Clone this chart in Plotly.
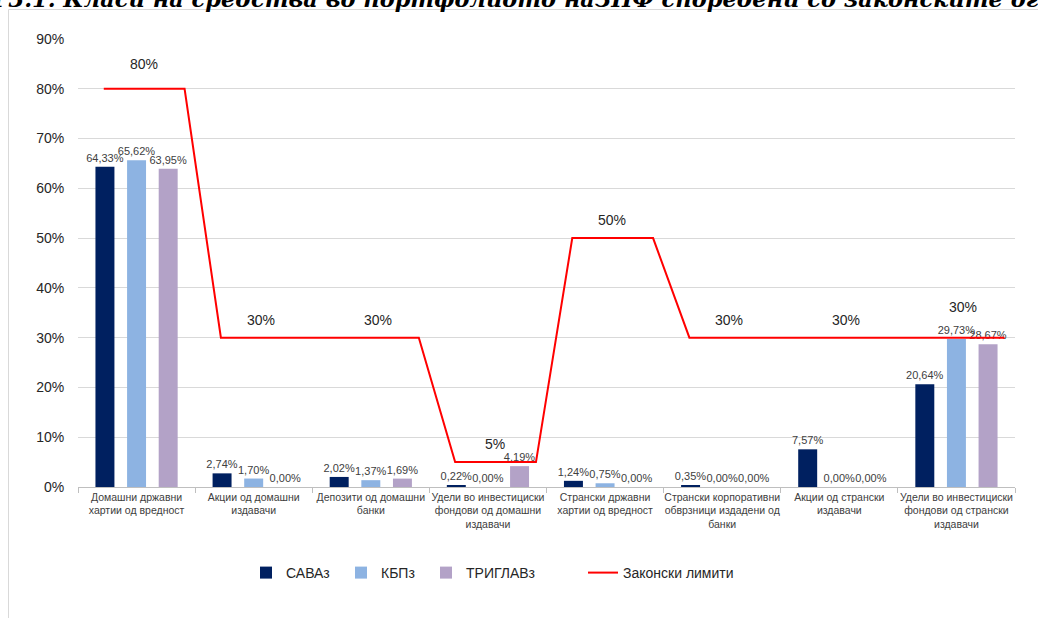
import plotly.graph_objects as go

categories = [
    "Домашни државни<br>хартии од вредност",
    "Акции од домашни<br>издавачи",
    "Депозити од домашни<br>банки",
    "Удели во инвестициски<br>фондови од домашни<br>издавачи",
    "Странски државни<br>хартии од вредност",
    "Странски корпоративни<br>обврзници издадени од<br>банки",
    "Акции од странски<br>издавачи",
    "Удели во инвестициски<br>фондови од странски<br>издавачи",
]
sava = [64.33, 2.74, 2.02, 0.22, 1.24, 0.35, 7.57, 20.64]
kbp = [65.62, 1.70, 1.37, 0.00, 0.75, 0.00, 0.00, 29.73]
triglav = [63.95, 0.00, 1.69, 4.19, 0.00, 0.00, 0.00, 28.67]
limits = [80, 30, 30, 5, 50, 30, 30, 30]
yticks = [0, 10, 20, 30, 40, 50, 60, 70, 80, 90]
title_text = "Г3.1. Класи на средства во портфолиото наЗПФ споредени со законските ограничувања"

series = [("САВАз", sava, "#002060", "legend"),
          ("КБПз", kbp, "#8DB3E2", "legend3"),
          ("ТРИГЛАВз", triglav, "#B3A2C7", "legend4")]
legend_px = {"legend": 246, "legend3": 341, "legend4": 426, "legend2": 583}
label_shift = [15, 8, 8, 8, 8, 8, 8, 21]

def fmt(v):
    return f"{v:.2f}%".replace(".", ",")

fig = go.Figure()
for name, vals, col, lg in series:
    fig.add_trace(go.Bar(
        x=categories, y=vals, name=name, marker=dict(color=col, line=dict(width=0)),
        text=[fmt(v) for v in vals], textposition="outside", constraintext="none",
        cliponaxis=False, textfont=dict(size=11, color="#404040", family="Liberation Sans, Arial"),
        hoverinfo="skip", legend=lg,
    ))

# legal limit line on an overlaid numeric axis
lx, ly = [], []
for i, L in enumerate(limits):
    lx += [i - 0.28, i + 0.41]
    ly += [L, L]
fig.add_trace(go.Scatter(x=lx, y=ly, mode="lines", name="Законски лимити",
                         line=dict(color="#FF0000", width=2), xaxis="x2", hoverinfo="skip",
                         legend="legend2"))

for i, L in enumerate(limits):
    fig.add_annotation(x=i + 0.06, y=L, xref="x2", yref="y", text=f"{L}%", showarrow=False,
                       yanchor="bottom", yshift=label_shift[i],
                       font=dict(size=14, color="#262626", family="Liberation Sans, Arial"))

# cropped title at the very top
fig.add_annotation(x=(-10 - 78) / 937, y=(487 - 14) / 448, xref="paper", yref="paper",
                   xanchor="left", yanchor="bottom", text=f"<b><i>{title_text}</i></b>", showarrow=False,
                   font=dict(size=22.5, color="#000000", family="DejaVu Serif"))

# outer chart frame
fig.add_shape(type="rect", xref="paper", yref="paper",
              x0=(8.5 - 78) / 937, x1=1.1, y0=-0.5, y1=(487 - 9.5) / 448,
              line=dict(color="#D9D9D9", width=1), fillcolor="rgba(0,0,0,0)", layer="below")

legend_common = dict(orientation="h", xanchor="left", y=(487 - 573) / 448, yanchor="middle",
                     font=dict(size=14, color="#262626"), bgcolor="rgba(0,0,0,0)")

fig.update_layout(
    width=1038, height=618,
    margin=dict(l=78, r=23, t=39, b=131, autoexpand=False),
    paper_bgcolor="white", plot_bgcolor="white",
    barmode="group", bargap=0.19, bargroupgap=0.4,
    font=dict(family="Liberation Sans, Arial", color="#404040"),
    showlegend=True,
    xaxis=dict(type="category", range=[-0.5, 7.5], tickson="boundaries", ticks="outside", ticklen=5,
               tickcolor="#BFBFBF", showline=True, linecolor="#BFBFBF", linewidth=1, showgrid=False,
               tickangle=0, automargin=False,
               tickfont=dict(size=10.5, color="#404040"), fixedrange=True),
    xaxis2=dict(overlaying="x", range=[-0.5, 7.5], visible=False, showgrid=False),
    yaxis=dict(range=[0, 90], tickmode="array", tickvals=yticks, ticktext=[f"{t}%" for t in yticks],
               showgrid=True, gridcolor="#D9D9D9", automargin=False,
               gridwidth=1, zeroline=False, ticks="outside", ticklen=10, tickcolor="rgba(0,0,0,0)",
               tickfont=dict(size=14, color="#262626"), showline=False),
)
fig.update_layout({lg: dict(legend_common, x=(px - 78) / 937) for lg, px in legend_px.items()})

fig.write_html("out.html", config={"displayModeBar": False},
               post_script="document.body.style.margin='0';")
